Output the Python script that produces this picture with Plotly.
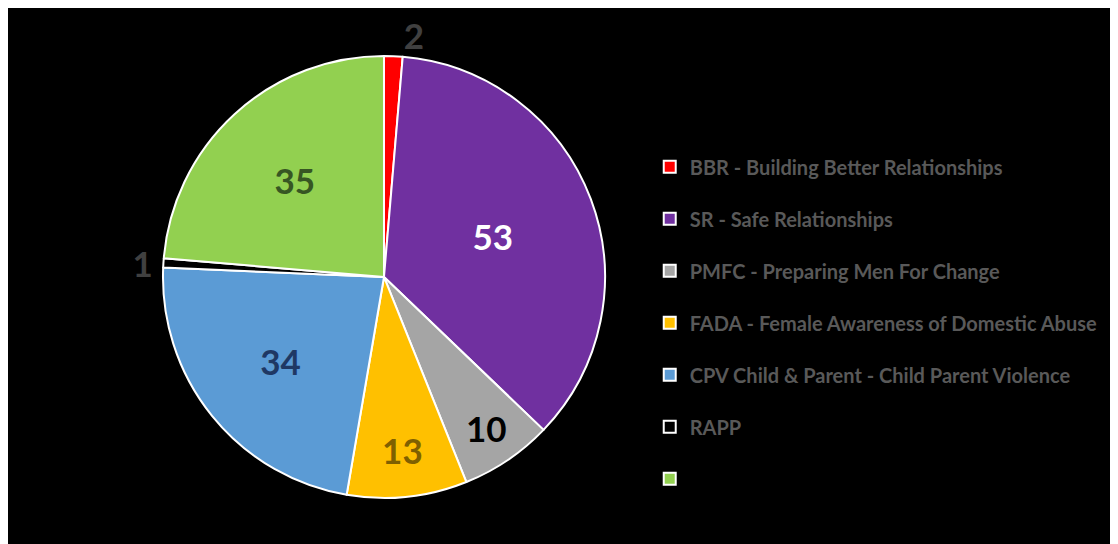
import plotly.graph_objects as go

# slice data, clockwise from 12 o'clock
labels = [
    "BBR - Building Better Relationships",
    "SR - Safe Relationships",
    "PMFC - Preparing Men For Change",
    "FADA - Female Awareness of Domestic Abuse",
    "CPV Child & Parent - Child Parent Violence",
    "RAPP",
    "",
]
values = [2, 53, 10, 13, 34, 1, 35]
colors = ["#FF0000", "#7030A0", "#A5A5A5", "#FFC000", "#5B9BD5", "#000000", "#92D050"]
text_colors = ["#404040", "#FFFFFF", "#000000", "#7F6000", "#1F3864", "#404040", "#375623"]
text_pos = ["outside", "inside", "inside", "inside", "inside", "outside", "inside"]

fig = go.Figure()

fig.add_trace(go.Pie(
    labels=[l if l else " " for l in labels],
    values=values,
    sort=False,
    direction="clockwise",
    rotation=0,
    marker=dict(colors=colors, line=dict(color="white", width=2)),
    textinfo="value",
    textposition=text_pos,
    insidetextorientation="horizontal",
    textfont=dict(family="Lato", size=35, color=text_colors, weight="bold"),
    showlegend=False,
    domain=dict(x=[0.1386, 0.534], y=[0.0993, 0.9118]),
))

# legend entries (separate marker traces so the item spacing can be set)
for i, lab in enumerate(labels):
    fig.add_trace(go.Scatter(
        x=[None], y=[None], mode="markers",
        name=lab if lab else " ",
        legendgroup=str(i),
        marker=dict(symbol="square", size=12, color=colors[i],
                    line=dict(color="white", width=2)),
    ))

fig.update_layout(
    width=1118, height=544,
    margin=dict(l=0, r=0, t=0, b=0),
    paper_bgcolor="black",
    plot_bgcolor="black",
    xaxis=dict(visible=False),
    yaxis=dict(visible=False),
    showlegend=True,
    legend=dict(
        x=0.574, y=0.744, xanchor="left", yanchor="top",
        bgcolor="rgba(0,0,0,0)",
        font=dict(family="Lato", size=20, color="#595959", weight="bold"),
        tracegroupgap=23,
    ),
)

fig.write_html("out.html")
